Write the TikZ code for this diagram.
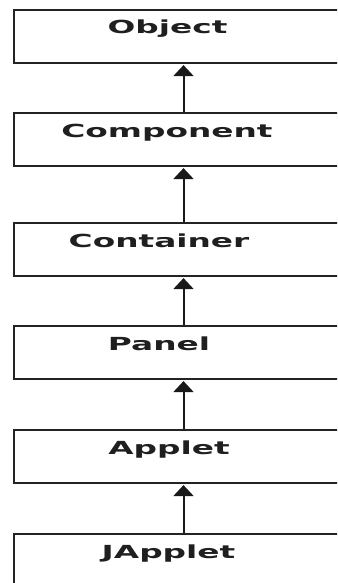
\documentclass[tikz,border=0pt]{standalone}
\usepackage{fontspec}
\setmainfont{DejaVu Sans}
\usetikzlibrary{arrows.meta}
\definecolor{boxline}{RGB}{35,35,35}
\begin{document}
\begin{tikzpicture}[x=1pt,y=-1pt,
  classbox/.style={draw=boxline,line width=1.6pt,fill=white,minimum width=340pt,minimum height=53pt,anchor=north west,inner sep=0pt},
  classname/.style={anchor=base,inner sep=0pt,font=\fontsize{18}{18}\selectfont\bfseries,text=black!88},
  inherit/.style={draw=black!90,line width=2pt,-{Triangle[width=20pt,length=11pt]},shorten >=1.5pt}]
\useasboundingbox (0,0) rectangle (337,583);
\clip (0,0) rectangle (337,583);
\coordinate (ax) at (183.5,0);
\node[classbox] (b1) at (13,9) {};
\node[classbox] (b2) at (13,112) {};
\node[classbox] (b3) at (13,222) {};
\node[classbox] (b4) at (13,325) {};
\node[classbox] (b5) at (13,429) {};
\node[classbox] (b6) at (13,533) {};
\node[classname] (t1) at (167.5,34) {\scalebox{1.82}[1]{Object}};
\node[classname] (t2) at (167,137.5) {\scalebox{1.82}[1]{Component}};
\node[classname] (t3) at (159,247.5) {\scalebox{1.82}[1]{Container}};
\node[classname] (t4) at (159,350.5) {\scalebox{1.82}[1]{Panel}};
\node[classname] (t5) at (169,454.5) {\scalebox{1.82}[1]{Applet}};
\node[classname] (t6) at (168.5,558.5) {\scalebox{1.82}[1]{JApplet}};
\draw[inherit] (b2.north -| ax) -- (b1.south -| ax);
\draw[inherit] (b3.north -| ax) -- (b2.south -| ax);
\draw[inherit] (b4.north -| ax) -- (b3.south -| ax);
\draw[inherit] (b5.north -| ax) -- (b4.south -| ax);
\draw[inherit] (b6.north -| ax) -- (b5.south -| ax);
\end{tikzpicture}
\end{document}
